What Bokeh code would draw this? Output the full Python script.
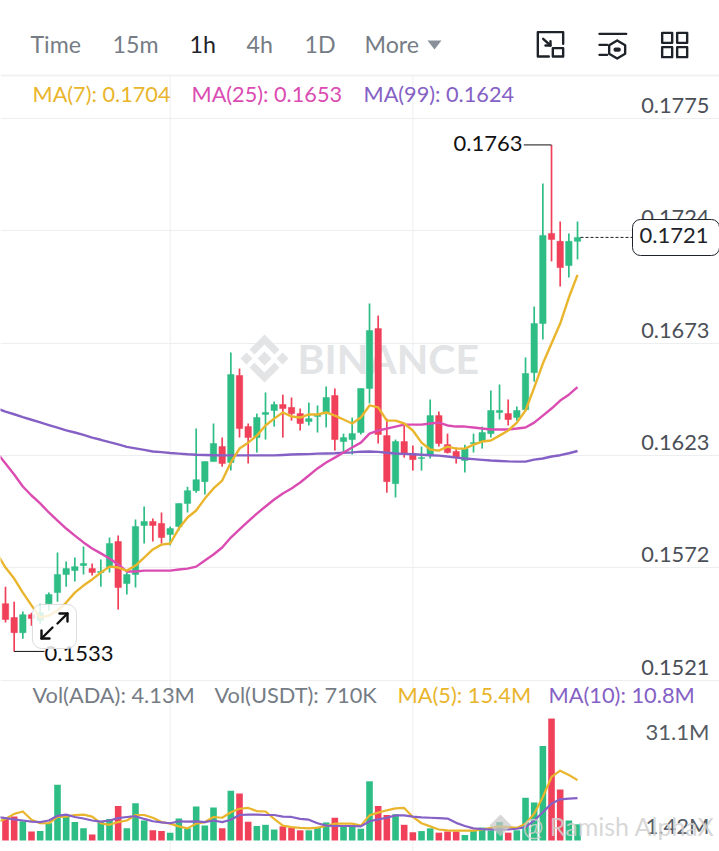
from bokeh.plotting import figure
from bokeh.models import Range1d, FixedTicker, Label, BoxAnnotation
from bokeh.core.properties import value
from bokeh.embed import file_html
from bokeh.resources import INLINE

# ---------- data ----------
open_ = [.15547,.15484,.15415,.15497,.15470,.15547,.15597,.15679,.15697,.15720,.15706,.15688,.15711,.15829,.15638,.15679,.15902,.15920,.15911,.15861,.15897,.16002,.16060,.16101,.16192,.16260,.16188,.16583,.16351,.16301,.16406,.16424,.16451,.16438,.16410,.16374,.16397,.16410,.16492,.16283,.16292,.16324,.16524,.16796,.16310,.16092,.16283,.16229,.16206,.16220,.16401,.16269,.16238,.16197,.16274,.16283,.16319,.16415,.16410,.16392,.16428,.16596,.16819,.17228,.17192,.17082,.17192]
high = [.15624,.15556,.15511,.15506,.15547,.15597,.15779,.15738,.15756,.15806,.15729,.15747,.15847,.15856,.15688,.15929,.15988,.15934,.15961,.15897,.16002,.16078,.16342,.16192,.16365,.16301,.16687,.16615,.16365,.16410,.16506,.16465,.16496,.16483,.16433,.16460,.16447,.16533,.16524,.16319,.16392,.16524,.16910,.16855,.16387,.16292,.16356,.16265,.16260,.16474,.16419,.16319,.16256,.16269,.16319,.16351,.16515,.16542,.16474,.16442,.16665,.16896,.17455,.1763,.17282,.17228,.17282]
low = [.15461,.1533,.15388,.15447,.15456,.15515,.15556,.15624,.15647,.15679,.15675,.15624,.15688,.15520,.15588,.15620,.15820,.15829,.15820,.15811,.15879,.15961,.16051,.16042,.16192,.16169,.16151,.16301,.16183,.16233,.16292,.16351,.16301,.16378,.16333,.16356,.16324,.16347,.16242,.16229,.16224,.16315,.16456,.16274,.16051,.16029,.16210,.16151,.16151,.16206,.16260,.16229,.16183,.16142,.16233,.16251,.16301,.16383,.16356,.16378,.16424,.16555,.16746,.17101,.16987,.17028,.17110]
close = [.15475,.15415,.15497,.15479,.15506,.15588,.15679,.15706,.15715,.15729,.15688,.15693,.15820,.15620,.15679,.15897,.15920,.15902,.15847,.15888,.16002,.16060,.16110,.16192,.16274,.16183,.16587,.16342,.16301,.16392,.16415,.16451,.16433,.16410,.16365,.16387,.16406,.16483,.16292,.16301,.16319,.16524,.16787,.16315,.16101,.16283,.16229,.16201,.16210,.16401,.16274,.16233,.16210,.16251,.16278,.16324,.16424,.16424,.16383,.16424,.16592,.16819,.17219,.17201,.17073,.17192,.17210]

ma7 = [.15775,.15711,.15661,.15597,.15539,.15484,.15493,.15515,.15552,.15597,.15629,.15657,.15688,.15715,.15711,.15697,.15720,.15756,.15793,.15815,.15820,.15888,.15938,.15970,.16024,.16070,.16106,.16188,.16251,.16278,.16310,.16356,.16387,.16415,.16397,.16392,.16406,.16406,.16415,.16401,.16383,.16365,.16392,.16447,.16438,.16378,.16378,.16365,.16333,.16278,.16247,.16242,.16260,.16251,.16251,.16269,.16283,.16288,.16310,.16333,.16369,.16424,.16528,.16637,.16728,.16819,.16937,.17040]
ma25 = [.16233,.16183,.16133,.16079,.16038,.16002,.15961,.15924,.15888,.15856,.15825,.15797,.15775,.15752,.15725,.15693,.15693,.15697,.15697,.15697,.15697,.15702,.15706,.15715,.15743,.15770,.15802,.15847,.15884,.15920,.15956,.15988,.16020,.16047,.16070,.16097,.16129,.16161,.16188,.16210,.16233,.16256,.16278,.16319,.16333,.16342,.16351,.16360,.16360,.16360,.16365,.16369,.16356,.16351,.16351,.16347,.16342,.16338,.16338,.16338,.16342,.16347,.16369,.16401,.16433,.16469,.16496,.16530]
ma99 = [.16433,.16419,.16407,.16394,.16382,.16370,.16358,.16346,.16334,.16324,.16313,.16301,.16291,.16280,.16270,.16259,.16252,.16245,.16238,.16235,.16231,.16228,.16225,.16223,.16222,.16221,.16220,.16220,.16220,.16220,.16220,.16220,.16220,.16222,.16224,.16225,.16226,.16228,.16229,.16230,.16232,.16234,.16237,.16238,.16236,.16232,.16229,.16227,.16225,.16223,.16221,.16219,.16215,.16210,.16206,.16203,.16200,.16197,.16195,.16193,.16192,.16192,.16201,.16206,.16215,.16221,.16230,.16240]

volume = [5.5,6.1,4.9,2.3,2.4,4.4,14.2,6.4,4.7,3.1,1.5,4.7,5.5,8.8,3.1,9.5,5.1,2.6,2.4,2.0,5.6,3.1,8.7,3.8,8.4,3.1,12.7,12.0,4.8,3.7,4.0,2.8,3.6,3.2,2.6,2.6,3.4,4.6,5.8,3.8,3.7,3.0,15.1,8.8,6.5,6.7,4.0,2.1,2.4,3.1,2.0,2.3,2.3,1.4,2.4,3.3,2.6,4.7,2.0,2.6,10.9,9.7,24.1,31.1,13.0,5.1,4.13]
vol_ma5 = [4.7,5.5,6.8,7.4,5.3,4.4,4.4,6.0,6.1,6.5,6.6,6.1,4.4,4.0,4.7,5.1,6.5,6.5,5.8,4.7,4.3,3.6,3.1,4.3,4.7,6.0,5.8,7.2,8.1,8.3,7.5,7.4,5.5,3.8,3.4,3.2,3.1,3.3,3.7,4.3,4.3,4.3,3.8,6.4,7.1,7.7,8.2,8.3,6.0,4.4,3.6,2.8,2.6,2.5,2.5,2.5,2.8,3.2,3.6,3.4,3.2,4.3,6.8,11.1,16.2,17.8,16.7,15.4]
vol_ma10 = [6.0,5.7,5.4,5.1,4.8,4.7,5.1,6.3,6.6,6.0,5.6,5.1,4.8,5.1,5.7,6.0,6.2,5.5,4.9,4.6,4.4,4.9,4.8,4.9,4.7,5.1,4.7,5.3,6.5,6.6,6.6,6.5,6.5,6.1,6.0,5.5,5.3,4.4,3.8,3.7,3.7,3.7,3.6,4.9,5.4,5.8,6.4,6.4,6.1,5.9,5.8,5.7,5.6,4.5,3.7,3.1,2.9,2.8,2.8,2.8,3.0,3.4,5.1,7.2,9.4,10.5,10.7,10.8]

tick_values = [.1775,.1724,.1673,.1622,.1571,.1520]
tick_labels = ["0.1775","0.1724","0.1673","0.1623","0.1572","0.1521"]
vol_tick_labels = ["31.1M","1.42M"]
vol_tick_values = [27.3,3.57]
grid_candles = [19,47]
tabs = ["Time","15m","1h","4h","1D","More"]

# ---------- layout of the page ----------
W, H = 719, 851
GREEN, RED = "#2EBD85", "#F0405A"
YEL, PINK, PUR = "#E9B52C", "#DB4CB2", "#8561C5"
DARK, GREY = "#1E2329", "#757C85"
FONT = "Lato"

def dx(px):            # reference pixel -> candle index
    return (px - 5) / 8.667
def dy(py):            # reference pixel -> price
    return 0.160153 + (500 - py) * 0.00004541

xs = list(range(len(open_)))
ma_xs = list(range(-1, len(open_)))
colors = [GREEN if c >= o else RED for o, c in zip(open_, close)]

p = figure(width=W, height=H, output_backend="svg", toolbar_location=None,
           x_range=Range1d(dx(0), dx(W)), y_range=Range1d(dy(H), dy(0)),
           min_border=0, min_border_left=0, min_border_right=0,
           min_border_top=0, min_border_bottom=0, outline_line_color=None,
           background_fill_color="white", border_fill_color="white")
p.xaxis.visible = False
p.yaxis.visible = False
p.xgrid.visible = False
p.ygrid.ticker = FixedTicker(ticks=tick_values)
p.ygrid.grid_line_color = "#EDEEF0"
p.ygrid.grid_line_width = 1

p.extra_y_ranges["vol"] = Range1d(-(H - 840) * 0.255, 840 * 0.255)

def txt(x, y, text, size, color, align="left", y_offset=1.5):
    p.add_layout(Label(x=x, y=y, text=text, text_font=FONT,
                       text_font_size=f"{size:.1f}px", text_color=color,
                       text_align=align, text_baseline="middle", y_offset=y_offset))

# separators and vertical grid
p.segment(x0=dx(0), x1=dx(W), y0=dy(75), y1=dy(75), line_color="#F1F2F3", line_width=2)
p.segment(x0=grid_candles, x1=grid_candles, y0=[dy(76)] * 2, y1=[dy(H)] * 2,
          line_color="#EDEEF0", line_width=1)

# watermark
wm = "#E3E4E6"
cx, cy = 264, 358
def diamond(c_x, c_y, r):
    return [dx(c_x - r), dx(c_x), dx(c_x + r), dx(c_x)], [dy(c_y), dy(c_y - r), dy(c_y), dy(c_y + r)]
dxs, dys = [], []
for c_x, c_y, r in [(cx, cy, 7), (cx - 18, cy, 6), (cx + 18, cy, 6)]:
    a, b = diamond(c_x, c_y, r)
    dxs.append(a); dys.append(b)
for sign in (-1, 1):
    dxs.append([dx(v) for v in (cx - 15, cx, cx + 15, cx + 10, cx, cx - 10)])
    dys.append([dy(cy + sign * v) for v in (9, 24, 9, 4, 14, 4)])
p.patches(dxs, dys, fill_color=wm, line_color=None)
p.text(x=[dx(297)], y=[dy(358)], text=["BINANCE"], text_font=value(FONT), text_font_style="bold",
       text_font_size="41px", text_color=wm, text_baseline="middle", text_align="left")

# candles
p.segment(x0=xs, x1=xs, y0=low, y1=high, line_color=colors, line_width=1.7)
p.vbar(x=xs, width=0.74, bottom=[min(o, c) for o, c in zip(open_, close)],
       top=[max(o, c) for o, c in zip(open_, close)], fill_color=colors, line_color=colors, line_width=0.5)

# price moving averages
p.line(ma_xs, ma99, line_color=PUR, line_width=2.4, line_join="round")
p.line(ma_xs, ma25, line_color=PINK, line_width=2.4, line_join="round")
p.line(ma_xs, ma7, line_color=YEL, line_width=2.4, line_join="round")

# volume panel
p.vbar(x=xs, width=0.76, bottom=0, top=volume, fill_color=colors, line_color=None, y_range_name="vol")
p.line(ma_xs, vol_ma5, line_color=YEL, line_width=2.2, y_range_name="vol", line_join="round")
p.line(ma_xs, vol_ma10, line_color=PUR, line_width=2.2, y_range_name="vol", line_join="round")

# last price dashes
p.segment(x0=dx(580), x1=dx(632), y0=close[-1], y1=close[-1], line_color=DARK, line_width=1, line_dash="3 2")

# high / low callouts
hi = high.index(max(high))
lo = low.index(min(low))
p.segment(x0=hi, x1=hi - 3.2, y0=high[hi], y1=high[hi], line_color="#111111", line_width=1)
p.segment(x0=lo, x1=lo + 3.5, y0=low[lo], y1=low[lo], line_color="#111111", line_width=1)

# right-hand price labels
for v, lab in zip(tick_values, tick_labels):
    txt(dx(709), v, lab, 21.8, "#4B5058", align="right", y_offset=13)

# tab bar
tab_pos = [30, 112, 189, 246, 304, 364]
for t, x in zip(tabs, tab_pos):
    txt(dx(x), dy(45), t, 23.2, DARK if t == "1h" else GREY)
p.patch([dx(427), dx(441), dx(434)], [dy(40), dy(40), dy(49)], fill_color="#8A9099", line_color=None)

# toolbar icons
def poly(points, lw=2.4, col=DARK):
    p.line([dx(500 + a / 3) for a, b in points], [dy(10 + b / 3) for a, b in points],
           line_color=col, line_width=lw, line_join="round", line_cap="round")
poly([(145, 138), (112, 138), (112, 65), (188, 65), (188, 100)])
poly([(157, 113), (188, 113), (188, 138), (157, 138), (157, 113)])
poly([(128, 85), (150, 105)])
poly([(150, 92), (150, 105), (135, 105)])
poly([(297, 70), (377, 70)])
poly([(297, 103), (320, 103)])
poly([(297, 133), (320, 133)])
poly([(350, 90), (374, 104), (374, 130), (350, 144), (326, 130), (326, 104), (350, 90)])
poly([(345, 117), (355, 117), (355, 118), (345, 118), (345, 117)], lw=4)
for x0, y0 in [(485, 67), (530, 67), (485, 110), (530, 110)]:
    poly([(x0, y0), (x0 + 30, y0), (x0 + 30, y0 + 30), (x0, y0 + 30), (x0, y0)])

# legends
txt(dx(32), dy(95), "MA(7): 0.1704", 21.7, YEL)
txt(dx(191), dy(95), "MA(25): 0.1653", 21.7, PINK)
txt(dx(363), dy(95), "MA(99): 0.1624", 21.7, PUR)
txt(dx(32), dy(695), "Vol(ADA): 4.13M", 21.8, GREY)
txt(dx(214), dy(695), "Vol(USDT): 710K", 21.8, GREY)
txt(dx(397), dy(695), "MA(5): 15.4M", 21.8, YEL)
txt(dx(548), dy(695), "MA(10): 10.8M", 21.8, PUR)

# callout texts
txt(dx(522), dy(144), "0.1763", 22, "#111111", align="right")
txt(dx(44), dy(654), "0.1533", 22, "#111111")

# volume axis labels
for v, lab in zip(vol_tick_values, vol_tick_labels):
    p.add_layout(Label(x=dx(709), y=v, y_range_name="vol", text=lab, text_font=FONT,
                       text_font_size="22px", text_color="#555B63", text_align="right",
                       text_baseline="middle", y_offset=1.5))

# bottom watermark
p.text(x=[dx(522)], y=[dy(825)], text=["@ Ramish AlphaX"], text_font=value(FONT),
       text_font_size="25px", text_color="#D0D0D0", text_alpha=0.85, level="overlay",
       text_baseline="middle", text_align="left")
a, b = diamond(500, 825, 11)
p.patch(a, b, fill_color="#C8C8C8", fill_alpha=0.7, line_color=None, level="overlay")

# last-price tag
p.add_layout(BoxAnnotation(left=dx(632), right=dx(719), top=dy(219), bottom=dy(255),
                           fill_color="white", fill_alpha=1, line_color=DARK, line_alpha=1, line_width=1,
                           border_radius=8))
txt(dx(708), close[-1], f"{close[-1]:.4f}", 22, DARK, align="right")

# chart-expand button
p.add_layout(BoxAnnotation(left=dx(32), right=dx(76), top=dy(604), bottom=dy(648),
                           fill_color="white", fill_alpha=0.82, line_color="#DDDDDD", line_alpha=1, line_width=1,
                           border_radius=9))
def ipoly(points):
    p.line([dx(a) for a, b in points], [dy(b) for a, b in points], line_color="#111111", line_width=2.4,
           level="overlay", line_join="round", line_cap="round")
ipoly([(41, 638), (52, 627)])
ipoly([(41, 630), (41, 638), (49, 638)])
ipoly([(57, 623), (67, 613)])
ipoly([(59, 613), (67, 613), (67, 621)])

open("out.html", "w").write(file_html(p, INLINE))
